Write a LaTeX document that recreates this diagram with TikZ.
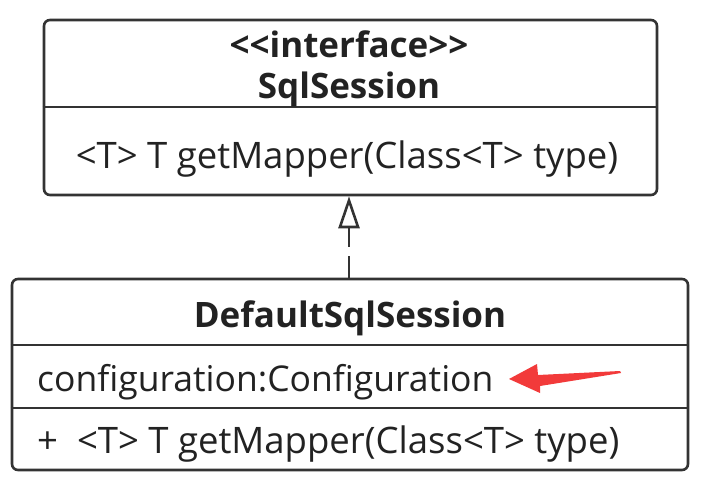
\documentclass[tikz,border=0pt]{standalone}
\usepackage{fontspec}
\setmainfont{Open Sans}
\usetikzlibrary{arrows.meta}
\definecolor{linec}{HTML}{333333}
\definecolor{textc}{HTML}{222222}
\definecolor{redc}{HTML}{F23A3A}
\begin{document}
\begin{tikzpicture}[x=1pt,y=-1pt,
  umlbox/.style={draw=linec, line width=2.6pt, rounded corners=6pt, fill=white, inner sep=0pt},
  divider/.style={draw=linec, line width=2.6pt},
  txt/.style={inner sep=0pt, text=textc, font=\fontsize{36.5}{40}\selectfont},
  btxt/.style={inner sep=0pt, text=textc, font=\fontsize{35}{40}\selectfont\bfseries},
  realize/.style={draw=linec, line width=2.6pt, dash pattern=on 22pt off 9pt on 30pt off 0pt,
     -{Triangle[open, length=32pt, width=21pt, line width=2.6pt, fill=white]}}
]
\useasboundingbox (0,0) rectangle (710,484);
% top box
\node[umlbox, minimum width=613pt, minimum height=175pt] (top) at (350.5,107.5) {};
\draw[divider] (top.west |- 0,107) coordinate (d1a) -- (top.east |- 0,107) coordinate (d1b);
\node[btxt, anchor=base] (stereo) at (349,58) {<{}<interface>{}>};
\node[btxt, anchor=base] (tname) at (349,99) {SqlSession};
\node[txt, anchor=base] (tmeth) at (347,169) {<T> T getMapper(Class<T> type)};
% bottom box
\node[umlbox, minimum width=676pt, minimum height=191pt] (bot) at (350,374.5) {};
\draw[divider] (bot.west |- 0,345) coordinate (d2a) -- (bot.east |- 0,345) coordinate (d2b);
\draw[divider] (bot.west |- 0,408) coordinate (d3a) -- (bot.east |- 0,408) coordinate (d3b);
\node[btxt, anchor=base] (bname) at (350,327) {DefaultSqlSession};
\node[txt, anchor=base west, font=\fontsize{35.5}{40}\selectfont] (battr) at (37,391) {configuration:Configuration};
\node[txt, anchor=base west] (bmeth) at (37,453) {+ \ <T> T getMapper(Class<T> type)};
% realization
\draw[realize] (bot.north -| 349,0) -- (top.south -| 349,0);
% red annotation arrow
\fill[redc] (509,379) -- (537,364) -- (538,375) -- (620,371) -- (621,373) -- (540,386) -- (540,393) -- cycle;
\end{tikzpicture}
\end{document}
